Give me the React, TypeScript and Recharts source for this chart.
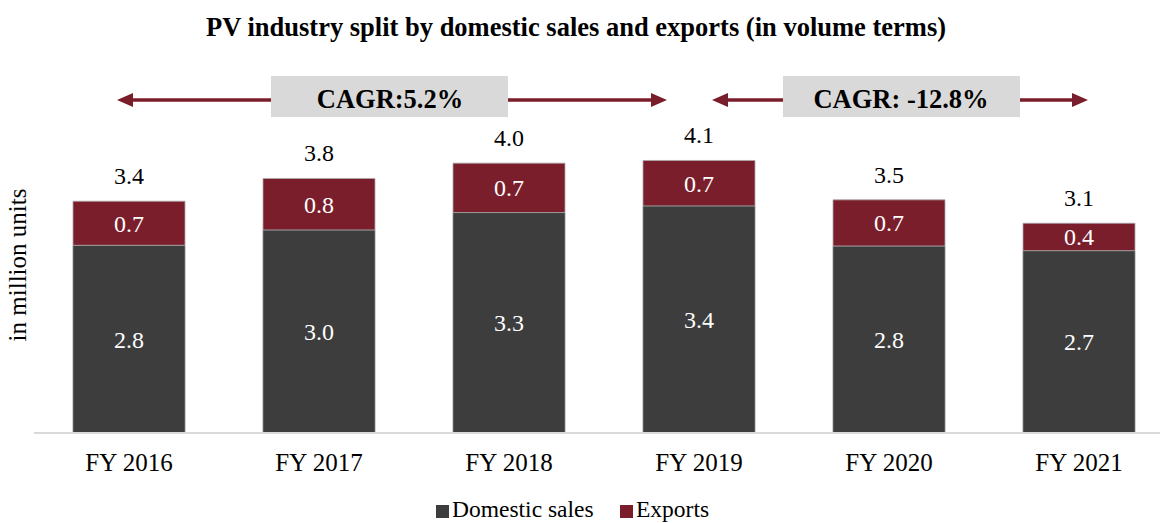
import React from "react";
import { BarChart, Bar, XAxis, YAxis, LabelList } from "recharts";

const years = ["FY 2016", "FY 2017", "FY 2018", "FY 2019", "FY 2020", "FY 2021"];
const domestic = [2.81, 3.04, 3.3, 3.4, 2.8, 2.73];
const exportsVol = [0.66, 0.77, 0.74, 0.68, 0.69, 0.41];
const totals = [3.4, 3.8, 4.0, 4.1, 3.5, 3.1];

const data = years.map((y, i) => ({
  year: y,
  domestic: domestic[i],
  exports: exportsVol[i],
  total: totals[i],
}));

const FONT = '"Liberation Serif", "Times New Roman", serif';
const DARK = "#3d3d3d";
const RED = "#7a1e2b";
const fmt = (v: any) => Number(v).toFixed(1);

function Arrow({ x1, x2, y }: { x1: number; x2: number; y: number }) {
  return (
    <g>
      <line x1={x1 + 10} x2={x2 - 10} y1={y} y2={y} stroke={RED} strokeWidth={3.5} />
      <polygon points={`${x1},${y} ${x1 + 16},${y - 7} ${x1 + 16},${y + 7}`} fill={RED} />
      <polygon points={`${x2},${y} ${x2 - 16},${y - 7} ${x2 - 16},${y + 7}`} fill={RED} />
    </g>
  );
}

export default function App() {
  return (
    <div style={{ position: "absolute", left: 0, top: 0, width: 1160, height: 523, overflow: "hidden", background: "#fff", fontFamily: FONT }}>
      <BarChart
        width={1180}
        height={523}
        data={data}
        margin={{ top: 99, right: 6, left: 34, bottom: 50 }}
        barSize={112}
      >
        <XAxis
          dataKey="year"
          axisLine={{ stroke: "#d9d9d9", strokeWidth: 2 }}
          tickLine={false}
          height={40}
          tick={{ fill: "#000", fontSize: 25, fontFamily: FONT }}
          tickMargin={14}
        />
        <YAxis hide domain={[0, 5]} />
        <Bar dataKey="domestic" stackId="a" fill={DARK} stroke="#8a8a8a" strokeWidth={0.8} isAnimationActive={false}>
          <LabelList dataKey="domestic" position="center" fill="#fff" fontSize={24} fontFamily={FONT} formatter={fmt} />
        </Bar>
        <Bar dataKey="exports" stackId="a" fill={RED} stroke="#a8a8a8" strokeWidth={0.8} isAnimationActive={false}>
          <LabelList dataKey="exports" position="center" fill="#fff" fontSize={24} fontFamily={FONT} formatter={fmt} />
          <LabelList dataKey="total" position="top" offset={17} fill="#000" fontSize={24} fontFamily={FONT} formatter={fmt} />
        </Bar>
      </BarChart>
      <svg width={1160} height={523} style={{ position: "absolute", left: 0, top: 0, pointerEvents: "none" }}>
        <text x={576} y={36} textAnchor="middle" fontSize={26.5} fontWeight="bold" fontFamily={FONT} fill="#000">
          PV industry split by domestic sales and exports (in volume terms)
        </text>
        <text transform="translate(26,265) rotate(-90)" textAnchor="middle" fontSize={25} fontFamily={FONT} fill="#000">
          in million units
        </text>
        <Arrow x1={117} x2={667} y={100} />
        <rect x={271} y={76} width={237} height={41} fill="#d9d9d9" />
        <text x={390} y={108} textAnchor="middle" fontSize={26.5} fontWeight="bold" fontFamily={FONT} fill="#000">
          CAGR:5.2%
        </text>
        <Arrow x1={712} x2={1088} y={100} />
        <rect x={783} y={76} width={237} height={41} fill="#d9d9d9" />
        <text x={901} y={108} textAnchor="middle" fontSize={26.5} fontWeight="bold" fontFamily={FONT} fill="#000">
          CAGR: -12.8%
        </text>
        <rect x={436} y={505} width={13} height={13} fill={DARK} />
        <text x={452} y={517} fontSize={23.5} fontFamily={FONT} fill="#000">Domestic sales</text>
        <rect x={620} y={505} width={13} height={13} fill={RED} />
        <text x={636} y={517} fontSize={23.5} fontFamily={FONT} fill="#000">Exports</text>
      </svg>
    </div>
  );
}
